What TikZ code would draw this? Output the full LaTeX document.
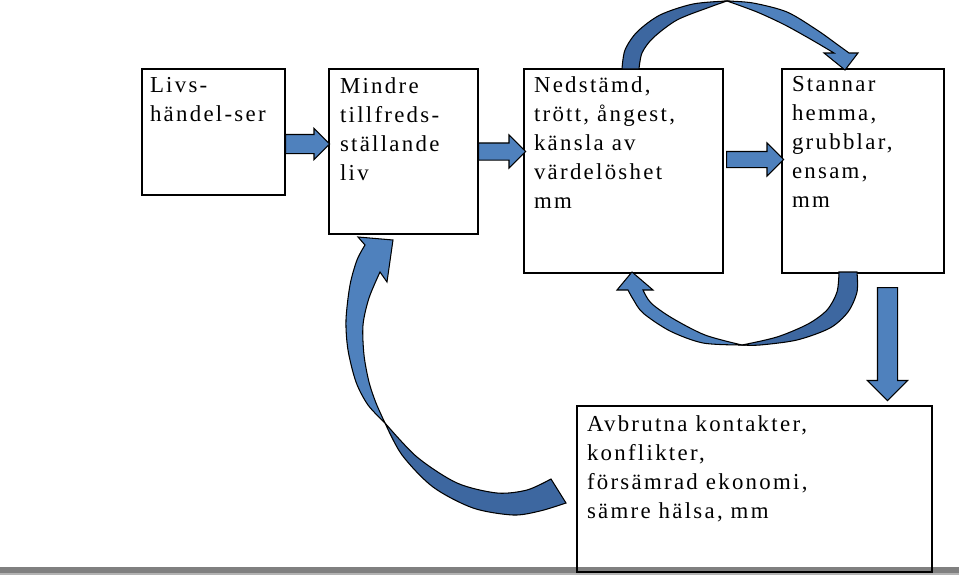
\documentclass[tikz,border=0pt]{standalone}
\usepackage{fontspec}
\setmainfont{Liberation Serif}[LetterSpace=10]
\definecolor{arrowBlue}{RGB}{79,129,189}
\definecolor{arrowDark}{RGB}{61,103,160}
\definecolor{barGray}{RGB}{128,128,128}
\usetikzlibrary{positioning, shapes.arrows}

\begin{document}
\begin{tikzpicture}[
    x=0.2mm, y=-0.2mm,
    node distance=0.88cm,
    every node/.style={font=\fontsize{13pt}{16.5pt}\selectfont},
    box/.style={draw=black, line width=0.8pt, inner sep=0pt, outer sep=0pt, anchor=north west},
    txt/.style={align=left, inner sep=0pt, outer sep=0pt, anchor=north west,
                execute at begin node=\strut},
    blockarrow/.style={single arrow, draw=black, line width=0.6pt, fill=arrowBlue,
                       text height=0pt, text depth=0pt, minimum width=0pt, anchor=tail},
    ribbon/.style={draw=black, line width=0.6pt, fill=arrowBlue},
    ribbonback/.style={draw=black, line width=0.6pt, fill=arrowDark}
  ]
    \useasboundingbox (0,0) rectangle (959,575);
    \fill[barGray] (0,567) rectangle (959,575);
    \fill[barGray!60] (0,573) rectangle (959,575);

    \node[box, minimum width=2.86cm, minimum height=2.52cm] (livs) at (142,69) {};
    \node[box, minimum width=2.98cm, minimum height=3.30cm,
          right=0.88cm of livs.north east, anchor=north west] (mindre) {};
    \node[box, minimum width=3.98cm, minimum height=4.08cm,
          right=0.92cm of mindre.north east, anchor=north west] (nedstamd) {};
    \node[box, minimum width=3.24cm, minimum height=4.08cm,
          right=1.18cm of nedstamd.north east, anchor=north west] (stannar) {};
    \node[box, minimum width=7.10cm, minimum height=3.32cm] (avbrutna) at (577,406) {};

    \node[txt] (livs-t) at ([xshift=0.16cm, yshift=-0.174cm]livs.north west) {Livs-\\händel-ser};
    \node[txt] (mindre-t) at ([xshift=0.22cm, yshift=-0.174cm]mindre.north west)
      {Mindre\\tillfreds-\\ställande\\liv};
    \node[txt] (nedstamd-t) at ([xshift=0.2cm, yshift=-0.154cm]nedstamd.north west)
      {Nedstämd,\\trött, ångest,\\känsla av\\värdelöshet\\mm};
    \node[txt] (stannar-t) at ([xshift=0.2cm, yshift=-0.154cm]stannar.north west)
      {Stannar\\hemma,\\grubblar,\\ensam,\\mm};
    \node[txt] (avbrutna-t) at ([xshift=0.2cm, yshift=-0.194cm]avbrutna.north west)
      {Avbrutna kontakter,\\konflikter,\\försämrad ekonomi,\\sämre hälsa, mm};

    \node[blockarrow, minimum height=0.88cm, inner sep=0.18cm, single arrow head extend=0.12cm]
      (arrow-1) at ([yshift=-0.24cm]livs.east) {};
    \node[blockarrow, minimum height=0.94cm, inner sep=0.16cm, single arrow head extend=0.16cm]
      (arrow-2) at (mindre.east) {};
    \node[blockarrow, minimum height=1.14cm, inner sep=0.15cm, single arrow head extend=0.17cm]
      (arrow-3) at ([xshift=0.06cm, yshift=0.23cm]nedstamd.east) {};
    \node[blockarrow, shape border rotate=270, minimum height=2.26cm, inner sep=0.19cm,
          single arrow head extend=0.2cm] (arrow-4) at ([xshift=0.49cm, yshift=-0.28cm]stannar.south) {};

    \filldraw[ribbonback] plot[smooth] coordinates {(622,69) (625,50) (637,32) (660,15) (693,4) (727,1)}
      -- plot[smooth] coordinates {(727,1) (710,7) (677,20) (653,38) (642,53) (639,69)} -- cycle;
    \filldraw[ribbon] plot[smooth] coordinates {(727,1) (753,3) (787,12) (817,30) (838,45) (849,53)}
      -- (858,53) -- (845,70) -- (824,53)
      -- plot[smooth] coordinates {(834,53) (812,40) (785,25) (757,12) (727,1)} -- cycle;

    \filldraw[ribbonback] plot[smooth] coordinates {(857,272) (857,292) (848,312) (830,328) (797,340) (760,345) (742,345)}
      -- plot[smooth] coordinates {(742,345) (777,337) (808,324) (827,310) (837,292) (839,272)} -- cycle;
    \filldraw[ribbon] plot[smooth] coordinates {(742,345) (703,343) (670,331) (643,313) (633,299) (628,290)}
      -- (617,290) -- (632,272) -- (653,290)
      -- plot[smooth] coordinates {(643,290) (651,303) (672,318) (705,335) (742,345)} -- cycle;

    \filldraw[ribbonback] plot[smooth] coordinates {(566,503) (540,511) (513,515) (473,508) (433,487) (402,455) (385,423)}
      -- plot[smooth] coordinates {(385,423) (417,457) (457,483) (497,493) (527,490) (551,479)} -- cycle;
    \filldraw[ribbon] plot[smooth] coordinates {(385,423) (368,405) (356,382) (348,350) (346,320) (350,285) (357,260) (365,245)}
      -- (358,237) -- (393,240) -- (387,282)
      -- plot[smooth] coordinates {(380,272) (369,298) (363,325) (364,355) (369,382) (376,403) (385,423)} -- cycle;
  \end{tikzpicture}
\end{document}
